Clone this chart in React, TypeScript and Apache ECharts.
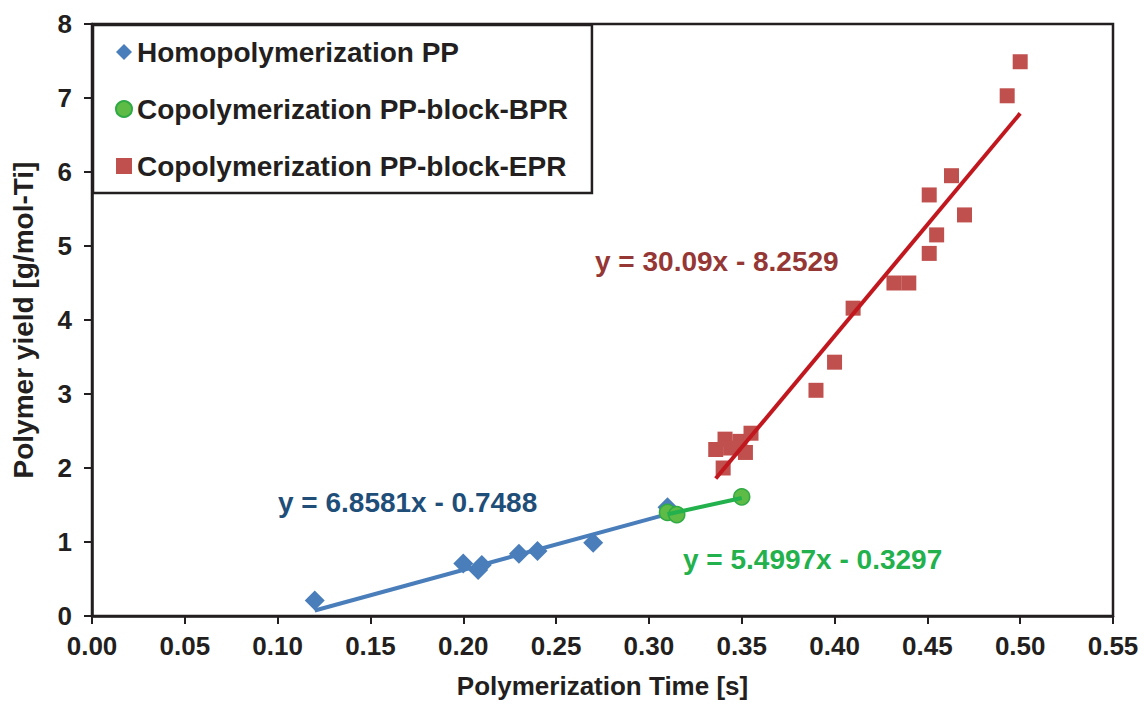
import React, { useEffect, useRef } from "react";
import * as echarts from "echarts";

const homoX = [0.12, 0.2, 0.208, 0.21, 0.23, 0.24, 0.27, 0.31];
const homoY = [0.21, 0.71, 0.62, 0.69, 0.84, 0.88, 0.99, 1.47];
const bprX = [0.31, 0.315, 0.35];
const bprY = [1.4, 1.37, 1.61];
const eprX = [0.336, 0.341, 0.34, 0.344, 0.349, 0.352, 0.355, 0.39, 0.4, 0.41, 0.432, 0.44, 0.451, 0.451, 0.455, 0.463, 0.47, 0.493, 0.5];
const eprY = [2.25, 2.39, 2.0, 2.27, 2.36, 2.21, 2.47, 3.05, 3.43, 4.16, 4.5, 4.5, 5.69, 4.9, 5.15, 5.95, 5.42, 7.03, 7.49];

const seriesNames = ["Homopolymerization PP", "Copolymerization PP-block-BPR", "Copolymerization PP-block-EPR"];
// trendline coefficients: slope, intercept
const homoFit = [6.8581, -0.7488];
const bprFit = [5.4997, -0.3297];
const eprFit = [30.09, -8.2529];
const eqLabels = ["y = 6.8581x - 0.7488", "y = 5.4997x - 0.3297", "y = 30.09x - 8.2529"];

const FONT = '"Liberation Sans", Arial, sans-serif';

function fitLine(xs: number[], fit: number[]) {
  const lo = Math.min(...xs);
  const hi = Math.max(...xs);
  return [
    [lo, fit[0] * lo + fit[1]],
    [hi, fit[0] * hi + fit[1]],
  ];
}

function zip(xs: number[], ys: number[]) {
  return xs.map((x, i) => [x, ys[i]]);
}

export default function App() {
  const ref = useRef<HTMLDivElement>(null);
  useEffect(() => {
    if (!ref.current) return;
    const chart = echarts.init(ref.current, null, { renderer: "svg" });
    const axisColor = "#231f20";
    chart.setOption({
      animation: false,
      backgroundColor: "#ffffff",
      grid: {
        left: 92,
        right: 31,
        top: 24,
        bottom: 86,
        show: true,
        borderColor: axisColor,
        borderWidth: 2.5,
        backgroundColor: "transparent",
      },
      xAxis: {
        type: "value",
        min: 0,
        max: 0.55,
        interval: 0.05,
        name: "Polymerization Time [s]",
        nameLocation: "middle",
        nameGap: 57,
        nameTextStyle: { fontFamily: FONT, fontWeight: "bold", fontSize: 26, color: axisColor },
        axisLine: { show: true, onZero: false, lineStyle: { color: axisColor, width: 2.5 } },
        axisTick: { show: true, inside: false, length: 8, lineStyle: { color: axisColor, width: 2 } },
        axisLabel: {
          fontFamily: FONT,
          fontWeight: "bold",
          fontSize: 26,
          color: axisColor,
          margin: 17,
          formatter: (v: number) => v.toFixed(2),
        },
        splitLine: { show: false },
      },
      yAxis: {
        type: "value",
        min: 0,
        max: 8,
        interval: 1,
        name: "Polymer yield [g/mol-Ti]",
        nameLocation: "middle",
        nameGap: 55,
        nameTextStyle: { fontFamily: FONT, fontWeight: "bold", fontSize: 28, color: axisColor },
        axisLine: { show: true, onZero: false, lineStyle: { color: axisColor, width: 2.5 } },
        axisTick: { show: true, inside: false, length: 8, lineStyle: { color: axisColor, width: 2 } },
        axisLabel: { fontFamily: FONT, fontWeight: "bold", fontSize: 26, color: axisColor, margin: 20 },
        splitLine: { show: false },
      },
      legend: {
        data: seriesNames,
        orient: "vertical",
        left: 93,
        top: 25,
        padding: [12, 24, 12, 22],
        itemGap: 27,
        itemWidth: 16,
        itemHeight: 16,
        itemTextGap: 7,
        backgroundColor: "#ffffff",
        borderColor: axisColor,
        borderWidth: 2.5,
        textStyle: { fontFamily: FONT, fontWeight: "bold", fontSize: 28, color: axisColor, lineHeight: 30 },
      },
      series: [
        {
          name: seriesNames[0],
          type: "scatter",
          symbol: "diamond",
          symbolSize: 20,
          itemStyle: { color: "#4a7ebb", opacity: 1 },
          data: zip(homoX, homoY),
          z: 2,
        },
        {
          name: "homoFit",
          type: "line",
          data: fitLine(homoX, homoFit),
          symbol: "none",
          lineStyle: { color: "#4a7ebb", width: 4 },
          z: 3,
        },
        {
          name: seriesNames[1],
          type: "scatter",
          symbol: "circle",
          symbolSize: 16,
          itemStyle: { color: "#5dbb46", borderColor: "#2faa44", borderWidth: 1.5, opacity: 1 },
          data: zip(bprX, bprY),
          z: 4,
        },
        {
          name: "bprFit",
          type: "line",
          data: fitLine(bprX, bprFit),
          symbol: "none",
          lineStyle: { color: "#22b14c", width: 4 },
          z: 5,
        },
        {
          name: seriesNames[2],
          type: "scatter",
          symbol: "rect",
          symbolSize: 15,
          itemStyle: { color: "#c0504d", opacity: 1 },
          data: zip(eprX, eprY),
          z: 6,
        },
        {
          name: "eprFit",
          type: "line",
          data: fitLine(eprX, eprFit),
          symbol: "none",
          lineStyle: { color: "#c0181e", width: 4 },
          z: 7,
        },
      ],
      graphic: [
        {
          type: "text",
          x: 278,
          y: 488,
          z: 10,
          style: { text: eqLabels[0], fill: "#1f4e79", font: `bold 28px ${FONT}`, verticalAlign: "top" },
        },
        {
          type: "text",
          x: 683,
          y: 545,
          z: 10,
          style: { text: eqLabels[1], fill: "#22b14c", font: `bold 28px ${FONT}`, verticalAlign: "top" },
        },
        {
          type: "text",
          x: 595,
          y: 247,
          z: 10,
          style: { text: eqLabels[2], fill: "#953735", font: `bold 28px ${FONT}`, verticalAlign: "top" },
        },
      ],
    });
    return () => chart.dispose();
  }, []);
  return (
    <div
      ref={ref}
      style={{ position: "fixed", left: 0, top: 0, width: 1144, height: 704, background: "#fff" }}
    />
  );
}
